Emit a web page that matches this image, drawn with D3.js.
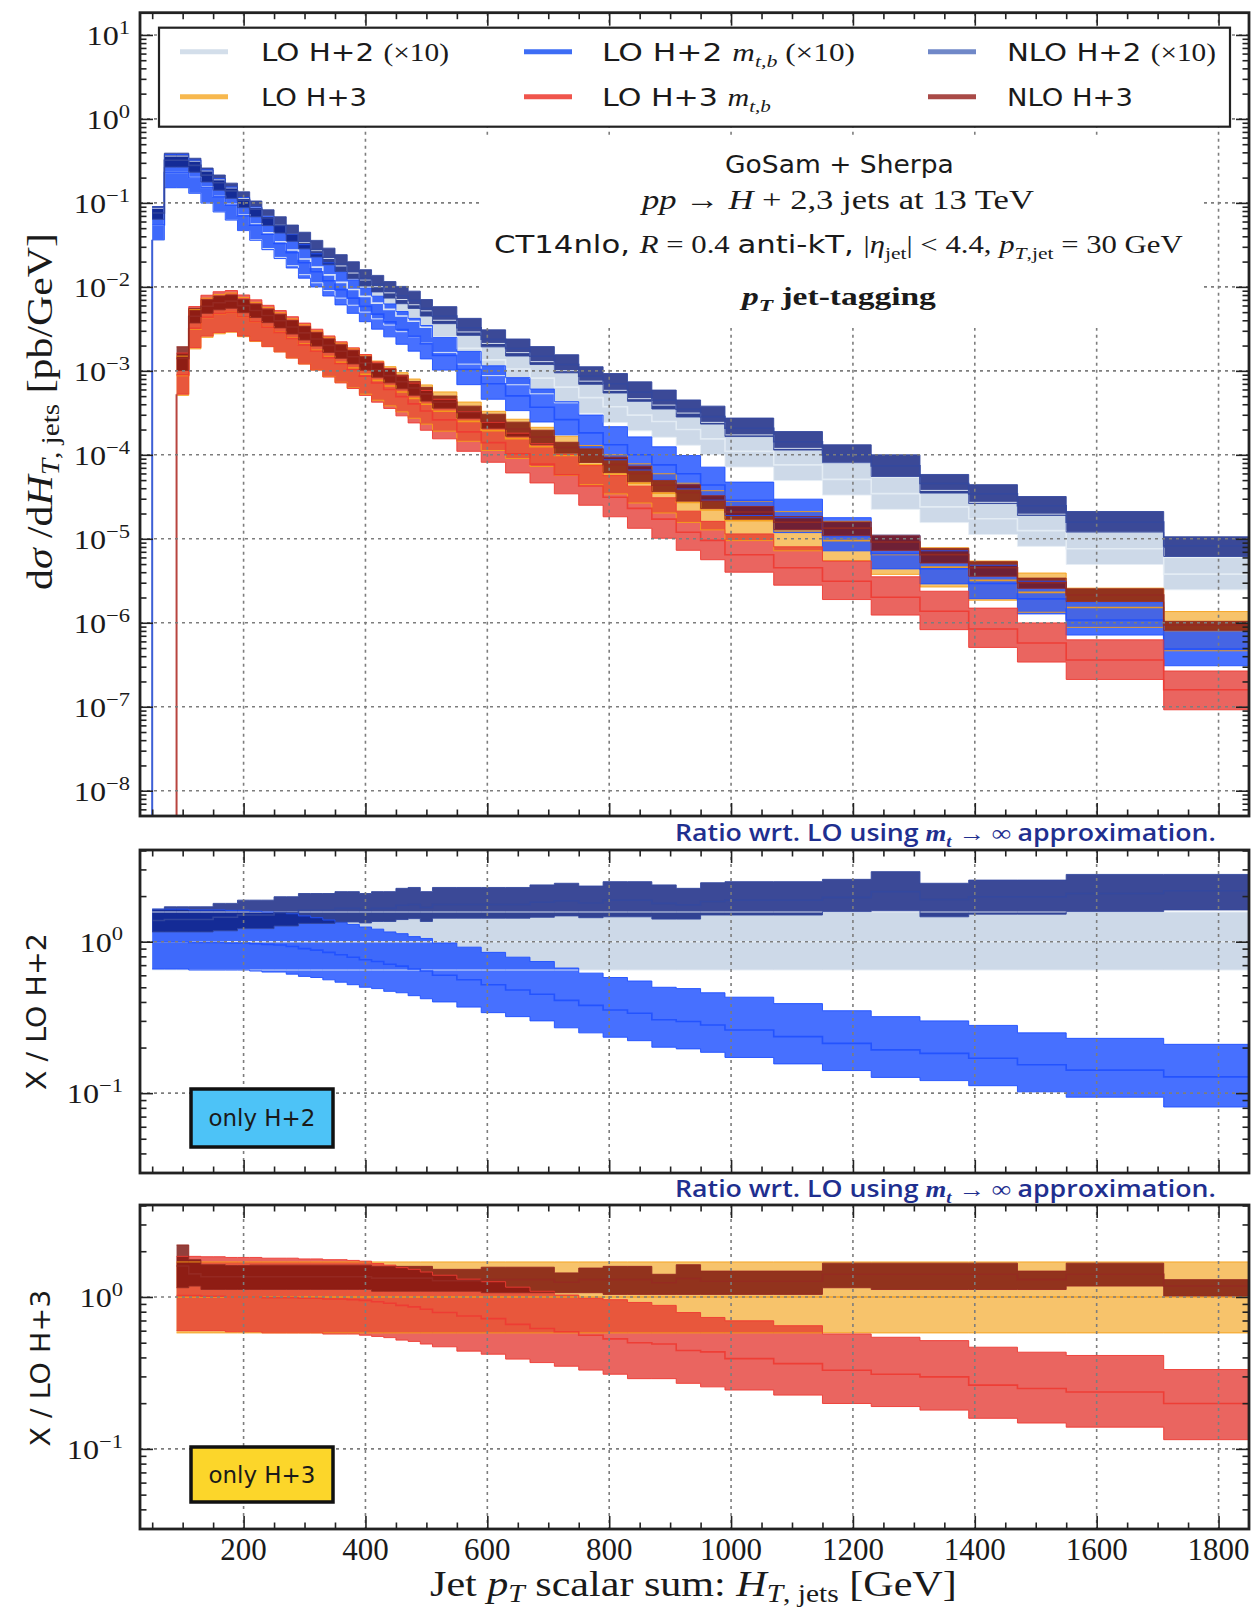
<!DOCTYPE html>
<html>
<head>
<meta charset="utf-8">
<title>H+2,3 jets HT</title>
<script src="https://cdn.jsdelivr.net/npm/d3@7/dist/d3.min.js"></script>
<style>
  body { margin: 0; background: #fff; }
  svg { display: block; }
</style>
</head>
<body>
<svg id="chart" width="1255" height="1613"></svg>
<script>
'use strict';

// ---- values ----
// bin edges of H_T,jets [GeV]
var binEdges = [50,70,90,110,130,150,170,190,210,230,250,270,290,310,330,350,370,390,410,430,
  450,470,490,510,550,590,630,670,710,750,790,830,870,910,950,990,1070,1150,1230,1310,
  1390,1470,1550,1710,1850];

// LO H+2 (mt -> inf) central value, already x10 [pb/GeV]
var loH2x10 = [0.055,0.23,0.23,0.20,0.153,0.120,0.096,0.072,0.056,0.044,
  0.0345,0.0275,0.0215,0.0172,0.0139,0.0113,0.0093,0.0077,0.0064,0.0054,
  0.0045,0.0039,0.0033,0.00255,0.00185,0.00135,0.00105,0.00082,0.00064,0.00048,
  0.000373,0.000297,0.000249,0.000200,0.000155,0.000110,7.6e-5,5.1e-5,3.45e-5,2.4e-5,
  1.73e-5,1.25e-5,7.6e-6,3.8e-6];

// LO H+3 (mt -> inf) central value [pb/GeV]
var loH3 = [null,null,0.00088,0.00315,0.00432,0.00476,0.00497,0.00440,0.00385,0.00335,
  0.00290,0.00245,0.00208,0.00176,0.00148,0.00126,0.00108,0.00091,0.00077,0.00066,
  0.00056,0.00047,0.00040,0.00033,0.00025,0.000194,0.000156,0.000125,9.8e-5,7.6e-5,
  5.9e-5,4.6e-5,3.5e-5,2.7e-5,2.2e-5,1.64e-5,1.24e-5,9.5e-6,6.5e-6,4.6e-6,
  3.2e-6,2.3e-6,1.52e-6,8.0e-7];

// ratios to the LO H+2 central value (middle panel)
var loH2Mid = [1,1,1,1,1,1,1,1,1,1, 1,1,1,1,1,1,1,1,1,1, 1,1,1,1,1,1,1,1,1,1, 1,1,1,1,1,1,1,1,1,1, 1,1,1,1];
var loH2Lo = [0.65,0.65,0.65,0.65,0.65,0.65,0.65,0.65,0.65,0.65, 0.65,0.65,0.65,0.65,0.65,0.65,0.65,0.65,0.65,0.65,
  0.65,0.65,0.65,0.65,0.65,0.65,0.65,0.65,0.65,0.65, 0.65,0.65,0.65,0.65,0.65,0.65,0.65,0.65,0.65,0.65, 0.65,0.65,0.65,0.65];
var loH2Hi = [1.57,1.57,1.57,1.57,1.57,1.57,1.57,1.57,1.57,1.57, 1.57,1.57,1.57,1.57,1.57,1.57,1.57,1.57,1.57,1.57,
  1.57,1.57,1.57,1.57,1.57,1.57,1.57,1.57,1.57,1.57, 1.57,1.57,1.57,1.57,1.57,1.57,1.57,1.57,1.57,1.57, 1.57,1.57,1.57,1.57];

var mtbH2Mid = [1.0,1.0,1.0,0.99,0.99,0.99,0.98,0.98,0.97,0.96, 0.95,0.93,0.90,0.88,0.85,0.82,0.79,0.76,0.74,0.71,
  0.69,0.66,0.64,0.60,0.56,0.52,0.48,0.45,0.41,0.38, 0.354,0.337,0.305,0.297,0.282,0.261,0.236,0.213,0.193,0.183,
  0.170,0.154,0.142,0.128];
var mtbH2Lo = [0.66,0.66,0.66,0.65,0.65,0.65,0.65,0.65,0.64,0.63, 0.63,0.61,0.59,0.58,0.56,0.54,0.52,0.50,0.49,0.47,
  0.46,0.44,0.42,0.40,0.37,0.34,0.32,0.30,0.27,0.25, 0.234,0.222,0.201,0.196,0.186,0.172,0.156,0.141,0.127,0.121,
  0.112,0.102,0.094,0.081];
var mtbH2Hi = [1.64,1.64,1.64,1.62,1.62,1.62,1.61,1.61,1.59,1.57, 1.56,1.53,1.48,1.44,1.39,1.34,1.30,1.25,1.21,1.16,
  1.13,1.08,1.05,0.98,0.92,0.85,0.79,0.74,0.67,0.62, 0.58,0.55,0.50,0.49,0.46,0.43,0.39,0.35,0.32,0.30,
  0.28,0.25,0.23,0.21];

var nloH2Mid = [1.38,1.40,1.40,1.40,1.40,1.45,1.45,1.50,1.50,1.50, 1.56,1.56,1.62,1.62,1.62,1.66,1.66,1.63,1.66,1.66,
  1.74,1.76,1.68,1.76,1.76,1.76,1.76,1.82,1.86,1.80, 1.88,1.88,1.79,1.75,1.84,1.88,1.88,1.96,2.14,1.90,
  1.98,1.98,2.08,2.17];
var nloH2Lo = [1.16,1.16,1.16,1.16,1.16,1.18,1.18,1.22,1.22,1.22, 1.27,1.27,1.32,1.32,1.32,1.35,1.35,1.33,1.36,1.36,
  1.40,1.42,1.36,1.43,1.43,1.43,1.43,1.45,1.48,1.44, 1.46,1.46,1.41,1.41,1.50,1.50,1.50,1.58,1.60,1.46,
  1.52,1.52,1.58,1.62];
var nloH2Hi = [1.64,1.70,1.70,1.70,1.70,1.79,1.79,1.88,1.88,1.88, 1.98,1.98,2.08,2.08,2.08,2.14,2.14,2.08,2.14,2.14,
  2.25,2.28,2.14,2.28,2.28,2.28,2.28,2.37,2.43,2.33, 2.49,2.49,2.37,2.25,2.45,2.49,2.49,2.58,2.90,2.43,
  2.55,2.55,2.78,2.78];

// ratios to the LO H+3 central value (bottom panel)
var loH3Mid = [null,null,1,1,1,1,1,1,1,1, 1,1,1,1,1,1,1,1,1,1, 1,1,1,1,1,1,1,1,1,1, 1,1,1,1,1,1,1,1,1,1, 1,1,1,1];
var loH3Lo = [null,null,0.58,0.58,0.58,0.58,0.58,0.58,0.58,0.58, 0.58,0.58,0.58,0.58,0.58,0.58,0.58,0.58,0.58,0.58,
  0.58,0.58,0.58,0.58,0.58,0.58,0.58,0.58,0.58,0.58, 0.58,0.58,0.58,0.58,0.58,0.58,0.58,0.58,0.58,0.58, 0.58,0.58,0.58,0.58];
var loH3Hi = [null,null,1.70,1.70,1.70,1.70,1.70,1.70,1.70,1.70, 1.70,1.70,1.70,1.70,1.70,1.70,1.70,1.70,1.70,1.70,
  1.70,1.70,1.70,1.70,1.70,1.70,1.70,1.70,1.70,1.70, 1.70,1.70,1.70,1.70,1.70,1.70,1.70,1.70,1.70,1.70, 1.70,1.70,1.70,1.70];

var mtbH3Mid = [null,null,1.02,1.02,1.01,1.01,1.00,1.00,1.00,0.99, 0.99,0.99,0.98,0.98,0.97,0.97,0.96,0.95,0.93,0.91,
  0.88,0.86,0.83,0.79,0.75,0.72,0.66,0.62,0.59,0.56, 0.53,0.50,0.49,0.444,0.435,0.393,0.364,0.329,0.310,0.298,
  0.263,0.250,0.237,0.199];
var mtbH3Lo = [null,null,0.60,0.60,0.60,0.60,0.59,0.59,0.59,0.58, 0.58,0.58,0.58,0.58,0.57,0.57,0.57,0.56,0.55,0.54,
  0.52,0.51,0.49,0.47,0.44,0.42,0.39,0.37,0.35,0.33, 0.31,0.29,0.29,0.27,0.256,0.244,0.226,0.199,0.190,0.180,
  0.159,0.148,0.139,0.115];
var mtbH3Hi = [null,null,1.85,1.85,1.84,1.84,1.82,1.82,1.82,1.80, 1.80,1.80,1.78,1.78,1.76,1.76,1.74,1.72,1.66,1.62,
  1.56,1.52,1.46,1.39,1.31,1.26,1.16,1.09,1.03,0.98, 0.96,0.92,0.88,0.79,0.733,0.697,0.647,0.571,0.543,0.516,
  0.467,0.433,0.412,0.333];

var nloH3Mid = [null,null,1.60,1.42,1.36,1.36,1.36,1.36,1.36,1.36, 1.36,1.36,1.36,1.36,1.36,1.36,1.36,1.36,1.33,1.33,
  1.33,1.33,1.33,1.28,1.28,1.30,1.30,1.30,1.25,1.30, 1.30,1.30,1.24,1.32,1.27,1.27,1.27,1.41,1.41,1.41,
  1.41,1.30,1.41,1.18];
var nloH3Lo = [null,null,1.15,1.18,1.12,1.12,1.12,1.12,1.12,1.12, 1.12,1.12,1.12,1.12,1.12,1.12,1.12,1.12,1.09,1.09,
  1.09,1.09,1.09,1.09,1.09,1.067,1.067,1.067,1.067,1.067, 1.04,1.04,1.04,1.04,1.04,1.04,1.04,1.15,1.12,1.12,
  1.12,1.12,1.18,1.015];
var nloH3Hi = [null,null,2.20,1.76,1.63,1.63,1.61,1.61,1.62,1.62, 1.62,1.62,1.62,1.62,1.62,1.62,1.62,1.62,1.59,1.59,
  1.59,1.59,1.59,1.52,1.52,1.57,1.57,1.57,1.44,1.55, 1.59,1.59,1.41,1.63,1.48,1.48,1.48,1.67,1.67,1.67,
  1.67,1.48,1.67,1.30];

// tick labels
var xTickValues = [200, 400, 600, 800, 1000, 1200, 1400, 1600, 1800];
var mainExponents = [1, 0, -1, -2, -3, -4, -5, -6, -7, -8];
var ratioExponents = [0, -1];

// ---- layout ----
var SERIF = "'Liberation Serif', 'Times New Roman', serif";
var SANS = "'DejaVu Sans', 'Liberation Sans', sans-serif";
var RFONT = "'Open Sans', 'DejaVu Sans', sans-serif";

var left = 140, right = 1249;
var mainBox = {top: 12.7, bottom: 816};
var r1Box = {top: 850, bottom: 1173};
var r2Box = {top: 1205, bottom: 1529};

var x = d3.scaleLinear().domain([30, 1850]).range([left, right]);
var yMain = d3.scaleLog().domain([5e-9, 18.4]).range([mainBox.bottom, mainBox.top]);
var yR1 = d3.scaleLog().domain([0.0297, 4.03]).range([r1Box.bottom, r1Box.top]);
var yR2 = d3.scaleLog().domain([0.0297, 4.03]).range([r2Box.bottom, r2Box.top]);

var series = [
  {key: "loH2",  grp: 2, mid: loH2Mid,  lo: loH2Lo,  hi: loH2Hi,  fill: "rgb(196,210,228)", op: 0.85, line: "#e6edf5"},
  {key: "loH3",  grp: 3, mid: loH3Mid,  lo: loH3Lo,  hi: loH3Hi,  fill: "rgb(245,180,70)",  op: 0.8,  line: "#f5a01a"},
  {key: "mtbH2", grp: 2, mid: mtbH2Mid, lo: mtbH2Lo, hi: mtbH2Hi, fill: "rgb(30,80,255)",   op: 0.82, line: "#1f50ff"},
  {key: "mtbH3", grp: 3, mid: mtbH3Mid, lo: mtbH3Lo, hi: mtbH3Hi, fill: "rgb(228,52,46)",   op: 0.76, line: "#ee3a32"},
  {key: "nloH2", grp: 2, mid: nloH2Mid, lo: nloH2Lo, hi: nloH2Hi, fill: "rgb(10,28,125)",   op: 0.8,  line: "#34489f"},
  {key: "nloH3", grp: 3, mid: nloH3Mid, lo: nloH3Lo, hi: nloH3Hi, fill: "rgb(120,15,10)",   op: 0.8,  line: "#962a22"}
];

var svg = d3.select("#chart");
var defs = svg.append("defs");
[["clipMain", mainBox], ["clipR1", r1Box], ["clipR2", r2Box]].forEach(function(c) {
  defs.append("clipPath").attr("id", c[0]).append("rect")
    .attr("x", left).attr("y", c[1].top)
    .attr("width", right - left).attr("height", c[1].bottom - c[1].top);
});

// step points; the main panel multiplies the ratios by the LO central value
function points(s, absolute) {
  var pts = [];
  s.mid.forEach(function(m, i) {
    if (m == null) return;
    var b = absolute ? (s.grp === 2 ? loH2x10[i] : loH3[i]) : 1;
    pts.push({x: binEdges[i], lo: s.lo[i] * b, mid: m * b, hi: s.hi[i] * b});
  });
  var last = pts[pts.length - 1];
  pts.push({x: binEdges[s.mid.length], lo: last.lo, mid: last.mid, hi: last.hi});
  return pts;
}

function drawSeries(y, clipId, list, absolute) {
  var g = svg.append("g").attr("clip-path", "url(#" + clipId + ")");
  var area = d3.area().curve(d3.curveStepAfter)
    .x(function(d) { return x(d.x); })
    .y0(function(d) { return y(d.lo); })
    .y1(function(d) { return y(d.hi); });
  list.forEach(function(s) {
    g.append("path").datum(points(s, absolute)).attr("d", area)
      .attr("fill", s.fill).attr("fill-opacity", s.op);
  });
  list.forEach(function(s) {
    var pts = points(s, absolute);
    ["lo", "hi", "mid"].forEach(function(k) {
      var line = d3.line().curve(d3.curveStepAfter)
        .x(function(d) { return x(d.x); })
        .y(function(d) { return y(d[k]); });
      g.append("path").datum(pts).attr("d", line)
        .attr("fill", "none").attr("stroke", s.line)
        .attr("stroke-width", k === "mid" ? 1.6 : 1).attr("stroke-opacity", 0.9);
    });
  });
  return g;
}

function drawGrid(y, box, yVals) {
  var g = svg.append("g").attr("stroke", "#7d7d7d").attr("stroke-width", 1.6)
    .attr("stroke-dasharray", "3,4").attr("fill", "none");
  g.selectAll(".vx").data(xTickValues).join("line")
    .attr("x1", function(d) { return x(d); }).attr("x2", function(d) { return x(d); })
    .attr("y1", box.top).attr("y2", box.bottom);
  g.selectAll(".hy").data(yVals).join("line")
    .attr("x1", left).attr("x2", right)
    .attr("y1", function(d) { return y(d); }).attr("y2", function(d) { return y(d); });
}

function logMinors(y) {
  var dom = y.domain(), out = [];
  for (var e = Math.floor(Math.log10(dom[0])); e <= Math.ceil(Math.log10(dom[1])); e++) {
    for (var m = 2; m <= 9; m++) {
      var v = m * Math.pow(10, e);
      if (v > dom[0] && v < dom[1]) out.push(v);
    }
  }
  return out;
}

function drawFrame(y, box, majors) {
  var xMinor = d3.range(50, 1850, 50).filter(function(v) { return v % 200 !== 0; });
  var g = svg.append("g");
  function put(axis, tx, ty, vals, size) {
    g.append("g").attr("transform", "translate(" + tx + "," + ty + ")")
      .call(axis.tickValues(vals).tickSize(size).tickFormat(""))
      .call(function(a) {
        a.select(".domain").remove();
        a.selectAll("line").attr("stroke", "#222").attr("stroke-width", 1.6);
      });
  }
  put(d3.axisLeft(y), left, 0, majors, -13);
  put(d3.axisLeft(y), left, 0, logMinors(y), -6.5);
  put(d3.axisRight(y), right, 0, majors, -13);
  put(d3.axisRight(y), right, 0, logMinors(y), -6.5);
  put(d3.axisBottom(x), 0, box.bottom, xTickValues, -13);
  put(d3.axisBottom(x), 0, box.bottom, xMinor, -6.5);
  put(d3.axisTop(x), 0, box.top, xTickValues, -13);
  put(d3.axisTop(x), 0, box.top, xMinor, -6.5);
  g.append("rect").attr("x", left).attr("y", box.top)
    .attr("width", right - left).attr("height", box.bottom - box.top)
    .attr("fill", "none").attr("stroke", "#222").attr("stroke-width", 2.8);
}

// rich text: parts may be italic / sub / sup; optional stretch to a target width
function label(parent, parts, o) {
  var g = parent.append("g");
  var t = g.append("text")
    .attr("font-family", o.family || SERIF)
    .attr("font-size", o.size)
    .attr("fill", o.color || "#1a1a1a");
  if (o.weight) t.attr("font-weight", o.weight);
  var shift = 0;
  var subDrop = o.subDrop != null ? o.subDrop : 0.25;
  parts.forEach(function(p) {
    if (typeof p === "string") p = {t: p};
    var ts = t.append("tspan").text(p.t);
    if (p.family) ts.attr("font-family", p.family);
    if (p.it) ts.attr("font-style", "italic");
    if (p.bold) ts.attr("font-weight", "bold");
    var want = p.sub ? o.size * subDrop : (p.sup ? -o.size * 0.4 : 0);
    if (p.sub || p.sup) ts.attr("font-size", o.size * 0.7);
    if (want !== shift) { ts.attr("dy", want - shift); shift = want; }
  });
  var w = t.node().getComputedTextLength();
  var sx = o.width ? o.width / w : (o.sx || 1);
  var anchor = o.anchor || "start";
  t.attr("x", anchor === "middle" ? -w / 2 : (anchor === "end" ? -w : 0));
  g.attr("transform", "translate(" + o.x + "," + o.y + ")" +
    (o.rotate ? " rotate(-90)" : "") + " scale(" + sx + ",1)");
  return g;
}

// ---- main panel ----
drawSeries(yMain, "clipMain", series, true);

// histograms rise from zero at their first bin edge
var dropLines = [
  {x: binEdges[0], v: loH2x10[0] * mtbH2Lo[0], color: "#3d5fd6"},
  {x: binEdges[2], v: loH3[2] * mtbH3Lo[2], color: "#b8453f"}
];
svg.append("g").selectAll("line").data(dropLines).join("line")
  .attr("x1", function(d) { return x(d.x); }).attr("x2", function(d) { return x(d.x); })
  .attr("y1", mainBox.bottom).attr("y2", function(d) { return yMain(d.v); })
  .attr("stroke", function(d) { return d.color; }).attr("stroke-width", 2);

drawGrid(yMain, mainBox, mainExponents.map(function(e) { return Math.pow(10, e); }));

// white backing of the process description
svg.append("rect").attr("x", 483).attr("y", 137).attr("width", 718).attr("height", 191).attr("fill", "#fff");

label(svg, ["GoSam + Sherpa"], {x: 839.5, y: 173, size: 25, family: SANS, anchor: "middle", width: 229});
label(svg, [{t: "pp", it: true}, " \u2192 ", {t: "H", it: true}, " + 2,3 jets at 13 TeV"],
  {x: 838, y: 209, size: 28, anchor: "middle", width: 392});
label(svg, [{t: "CT14nlo, ", family: SANS}, {t: "R", it: true}, " = 0.4 ", {t: "anti-kT, ", family: SANS},
  "|", {t: "\u03b7", it: true}, {t: "jet", sub: true}, "| < 4.4, ", {t: "p", it: true},
  {t: "T", it: true, sub: true}, {t: ",jet", sub: true}, " = 30 GeV"],
  {x: 838.5, y: 253, size: 25, anchor: "middle", width: 689});
label(svg, [{t: "p", it: true}, {t: "T", it: true, sub: true}, " jet-tagging"],
  {x: 839, y: 305, size: 25, weight: "bold", anchor: "middle", width: 194});

// legend
var legendEntries = [
  {row: 0, sx: 180, tx: 261, w: 188, color: "#d3deea", parts: ["LO H+2 ", {t: "(\u00d710)", family: SERIF}]},
  {row: 0, sx: 524, tx: 602, w: 253, color: "#3d6df5", parts: ["LO H+2 ", {t: "m", it: true, family: SERIF},
    {t: "t,b", it: true, sub: true, family: SERIF}, {t: " (\u00d710)", family: SERIF}]},
  {row: 0, sx: 928, tx: 1007, w: 209, color: "#7088c8", parts: ["NLO H+2 ", {t: "(\u00d710)", family: SERIF}]},
  {row: 1, sx: 180, tx: 261, w: 106, color: "#f7b84e", parts: ["LO H+3"]},
  {row: 1, sx: 524, tx: 602, w: 169, color: "#f0554c", parts: ["LO H+3 ", {t: "m", it: true, family: SERIF},
    {t: "t,b", it: true, sub: true, family: SERIF}]},
  {row: 1, sx: 928, tx: 1007, w: 126, color: "#a94a47", parts: ["NLO H+3"]}
];
var legend = svg.append("g");
legend.append("rect").attr("x", 159).attr("y", 27.7).attr("width", 1071).attr("height", 99)
  .attr("fill", "#fff").attr("stroke", "#222").attr("stroke-width", 2.2);
legendEntries.forEach(function(d) {
  var ly = d.row === 0 ? 51.7 : 96.7;
  legend.append("line").attr("x1", d.sx).attr("x2", d.sx + 48).attr("y1", ly).attr("y2", ly)
    .attr("stroke", d.color).attr("stroke-width", 5);
  label(legend, d.parts, {x: d.tx, y: ly + 9.5, size: 25, family: SANS, width: d.w});
});

drawFrame(yMain, mainBox, mainExponents.map(function(e) { return Math.pow(10, e); }));

// ---- ratio panels ----
var ratioTicks = ratioExponents.map(function(e) { return Math.pow(10, e); });

drawSeries(yR1, "clipR1", series.filter(function(s) { return s.grp === 2; }), false);
drawGrid(yR1, r1Box, ratioTicks);
drawSeries(yR2, "clipR2", series.filter(function(s) { return s.grp === 3; }), false);
drawGrid(yR2, r2Box, ratioTicks);

var infoBoxes = [
  {y: 1089, h: 58, fill: "#4dc3f7", text: "only H+2"},
  {y: 1447, h: 55, fill: "#fcd62a", text: "only H+3"}
];
infoBoxes.forEach(function(b) {
  svg.append("rect").attr("x", 191).attr("y", b.y).attr("width", 142).attr("height", b.h)
    .attr("fill", b.fill).attr("stroke", "#111").attr("stroke-width", 3.5);
  label(svg, [b.text], {x: 262, y: b.y + b.h / 2 + 8, size: 23, family: SANS, anchor: "middle", width: 107});
});

drawFrame(yR1, r1Box, ratioTicks);
drawFrame(yR2, r2Box, ratioTicks);

[841, 1197].forEach(function(yy) {
  label(svg, ["Ratio wrt. LO using ", {t: "m", it: true, family: SERIF}, {t: "t", it: true, sub: true, family: SERIF},
    {t: " \u2192 \u221e ", family: SERIF}, "approximation."],
    {x: 1216, y: yy, size: 23, family: RFONT, weight: 600, color: "#1f2f8f", anchor: "end", width: 541});
});

// ---- tick labels ----
mainExponents.forEach(function(e) {
  label(svg, ["10", {t: (e < 0 ? "\u2212" : "") + Math.abs(e), sup: true}],
    {x: 130, y: yMain(Math.pow(10, e)) + 10, size: 28, anchor: "end", sx: 1.15});
});
[[yR1, 123], [yR2, 123]].forEach(function(p) {
  ratioExponents.forEach(function(e) {
    label(svg, ["10", {t: (e < 0 ? "\u2212" : "") + Math.abs(e), sup: true}],
      {x: p[1], y: p[0](Math.pow(10, e)) + 10, size: 28, anchor: "end", sx: 1.15});
  });
});
xTickValues.forEach(function(v) {
  label(svg, [String(v)], {x: x(v), y: 1560, size: 31, anchor: "middle"});
});

// ---- axis titles ----
label(svg, ["d", {t: "\u03c3", it: true}, " /d", {t: "H", it: true}, {t: "T", it: true, sub: true},
  {t: ", jets", sub: true}, " [pb/GeV]"],
  {x: 52, y: 411.5, size: 35, anchor: "middle", rotate: true, width: 357, subDrop: 0.2});
label(svg, ["X / LO H+2"], {x: 46, y: 1011.5, size: 27, family: SANS, anchor: "middle", rotate: true, width: 157});
label(svg, ["X / LO H+3"], {x: 50, y: 1368, size: 27, family: SANS, anchor: "middle", rotate: true, width: 157});
label(svg, ["Jet ", {t: "p", it: true}, {t: "T", it: true, sub: true}, " scalar sum:  ", {t: "H", it: true},
  {t: "T", it: true, sub: true}, {t: ", jets", sub: true}, " [GeV]"],
  {x: 693.5, y: 1596, size: 35, anchor: "middle", width: 527, subDrop: 0.16});
</script>
</body>
</html>
